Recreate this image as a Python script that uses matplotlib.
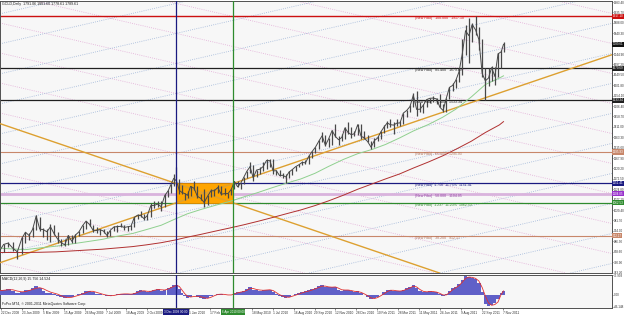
import numpy as np
import pandas as pd
import matplotlib
matplotlib.use('Agg')
import matplotlib.pyplot as plt
import matplotlib.dates as mdates
from matplotlib.patches import Rectangle

plt.rcParams['font.family'] = ['Liberation Sans', 'DejaVu Sans']
W, H = 625, 315

title_text = "GOLD,Daily  1791.06 1801.60 1778.61 1789.61"
macd_text = "MACD(12,26,9) 15.756 14.524"
footer_text = "FxPro MT4, \u00a9 2001-2011 MetaQuotes Software Corp."

# ---- time axis labels (one every 30 bars) ----
tick_dates = ['2008-12-22', '2009-01-23', '2009-03-05', '2009-04-15', '2009-05-26',
              '2009-07-07', '2009-08-18', '2009-10-02', '2009-11-13', '2010-01-05',
              '2010-02-17', '2010-04-01', '2010-05-18', '2010-07-01', '2010-08-16',
              '2010-09-29', '2010-11-12', '2010-12-28', '2011-02-10', '2011-03-28',
              '2011-05-11', '2011-06-24', '2011-08-09', '2011-09-22', '2011-11-07']
hidden_ticks = ['2009-11-13', '2010-04-01']   # covered by the vertical-line date boxes

# ---- weekly price data ----
week_dates = list(pd.date_range('2008-12-19', '2011-11-04', freq='W-FRI').strftime('%Y-%m-%d')) + ['2011-11-09']
highs = [880, 875, 885, 881, 845, 905, 930, 925, 950, 1007,
         1000, 946, 945, 965, 960, 930, 895, 895, 915, 915,
         920, 935, 962, 980, 990, 962, 950, 945, 945, 935,
         940, 958, 960, 972, 960, 955, 960, 1000, 1010, 1025,
         1010, 1010, 1062, 1070, 1070, 1070, 1102, 1120, 1150, 1195,
         1227, 1170, 1145, 1110, 1115, 1140, 1162, 1140, 1105, 1125,
         1098, 1125, 1125, 1145, 1140, 1130, 1110, 1128, 1165, 1162,
         1155, 1180, 1210, 1250, 1238, 1215, 1225, 1250, 1262, 1262,
         1262, 1215, 1215, 1200, 1195, 1210, 1220, 1232, 1242, 1255,
         1260, 1280, 1300, 1320, 1350, 1388, 1375, 1360, 1398, 1424,
         1370, 1380, 1410, 1432, 1410, 1390, 1425, 1423, 1390, 1375,
         1345, 1360, 1370, 1390, 1420, 1437, 1445, 1435, 1447, 1440,
         1475, 1488, 1510, 1564, 1575, 1523, 1515, 1540, 1545, 1552,
         1545, 1560, 1515, 1545, 1595, 1610, 1632, 1682, 1815, 1880,
         1912, 1885, 1921, 1870, 1815, 1680, 1680, 1690, 1685, 1750,
         1765, 1802]
lows = [815, 836, 860, 840, 803, 830, 880, 890, 905, 938,
        935, 905, 890, 885, 915, 880, 865, 865, 868, 880,
        880, 910, 925, 945, 955, 930, 925, 915, 925, 905,
        910, 935, 930, 950, 940, 935, 940, 950, 990, 1000,
        985, 985, 1000, 1040, 1045, 1027, 1042, 1090, 1110, 1140,
        1160, 1105, 1105, 1075, 1085, 1095, 1120, 1085, 1075, 1045,
        1055, 1090, 1095, 1110, 1100, 1100, 1085, 1100, 1125, 1135,
        1125, 1150, 1175, 1200, 1165, 1180, 1195, 1210, 1220, 1225,
        1195, 1190, 1185, 1175, 1155, 1175, 1190, 1210, 1225, 1235,
        1240, 1240, 1270, 1290, 1310, 1340, 1325, 1320, 1330, 1365,
        1330, 1345, 1355, 1380, 1360, 1370, 1375, 1355, 1355, 1340,
        1310, 1320, 1345, 1355, 1385, 1405, 1410, 1380, 1415, 1415,
        1425, 1455, 1480, 1500, 1462, 1480, 1475, 1500, 1520, 1525,
        1515, 1500, 1478, 1480, 1540, 1575, 1590, 1615, 1650, 1740,
        1705, 1800, 1830, 1765, 1640, 1535, 1600, 1620, 1605, 1640,
        1680, 1755]
closes = [838, 872, 878, 855, 838, 900, 928, 913, 941, 1002,
          942, 940, 930, 953, 922, 897, 881, 870, 913, 886,
          915, 930, 958, 979, 963, 937, 936, 940, 933, 913,
          938, 952, 954, 955, 950, 953, 956, 996, 1006, 1004,
          990, 1004, 1050, 1051, 1057, 1045, 1096, 1118, 1146, 1175,
          1163, 1120, 1110, 1105, 1097, 1138, 1130, 1093, 1083, 1064,
          1093, 1118, 1118, 1133, 1102, 1105, 1105, 1125, 1161, 1136,
          1152, 1180, 1208, 1228, 1177, 1213, 1217, 1229, 1257, 1256,
          1209, 1210, 1188, 1189, 1181, 1204, 1215, 1228, 1237, 1248,
          1246, 1276, 1298, 1318, 1345, 1370, 1326, 1357, 1394, 1367,
          1352, 1362, 1406, 1385, 1375, 1380, 1421, 1368, 1360, 1343,
          1318, 1348, 1360, 1388, 1410, 1429, 1421, 1419, 1428, 1429,
          1474, 1486, 1504, 1556, 1491, 1492, 1510, 1536, 1542, 1543,
          1539, 1501, 1486, 1542, 1592, 1601, 1624, 1663, 1744, 1852,
          1829, 1880, 1856, 1812, 1656, 1622, 1635, 1683, 1642, 1746,
          1755, 1789.61]

# ---- MACD (12,26,9), weekly samples ----
macd_main = [18, 20, 22, 15, 6, 10, 18, 20, 24, 32,
             26, 16, 8, 6, 4, -4, -10, -14, -10, -7,
             -3, 2, 8, 14, 16, 10, 4, 1, -1, -5,
             -4, 0, 2, 4, 3, 2, 2, 8, 14, 17,
             14, 11, 16, 20, 21, 16, 20, 26, 31, 36,
             38, 22, 6, -6, -12, -8, -3, -7, -11, -16,
             -13, -5, 0, 4, 2, -1, -3, 0, 8, 10,
             11, 15, 22, 29, 20, 17, 16, 17, 20, 20,
             10, 2, -5, -9, -13, -8, -3, 2, 7, 11,
             13, 17, 22, 27, 32, 37, 30, 28, 31, 30,
             20, 16, 19, 19, 14, 11, 13, 6, -2, -10,
             -18, -14, -8, 0, 10, 17, 19, 15, 15, 13,
             19, 24, 29, 38, 24, 14, 10, 12, 13, 12,
             9, 2, -5, 2, 16, 25, 31, 40, 58, 72,
             68, 66, 60, 46, 10, -35, -44, -40, -33, -15,
             8, 15.76]
macd_signal = [15, 17, 19, 19, 14, 11, 12, 16, 20, 25,
               27, 23, 16, 10, 6, 2, -4, -9, -11, -10,
               -6, -2, 3, 8, 13, 13, 9, 5, 1, -2,
               -4, -3, 0, 2, 3, 3, 2, 4, 9, 14,
               15, 13, 13, 17, 20, 19, 18, 22, 27, 32,
               36, 32, 18, 4, -6, -9, -7, -6, -8, -12,
               -14, -10, -4, 1, 2, 1, -1, -1, 3, 7,
               10, 12, 17, 24, 24, 20, 18, 17, 18, 19,
               16, 8, 0, -5, -9, -10, -6, -2, 3, 7,
               11, 14, 18, 23, 28, 33, 33, 30, 29, 30,
               25, 19, 18, 18, 16, 13, 12, 9, 3, -4,
               -12, -15, -11, -4, 4, 12, 17, 17, 15, 14,
               16, 21, 26, 33, 30, 20, 13, 11, 12, 12,
               10, 5, -1, -1, 8, 19, 27, 35, 48, 63,
               68, 67, 63, 53, 28, -5, -32, -41, -38, -28,
               2, 14.52]

# ---- moving averages (monthly readings) ----
ma_dates = ['2008-12-19', '2009-01-30', '2009-02-27', '2009-03-31', '2009-04-30', '2009-05-29',
            '2009-06-30', '2009-07-31', '2009-08-31', '2009-09-30', '2009-10-30', '2009-11-30',
            '2009-12-31', '2010-01-29', '2010-02-26', '2010-03-31', '2010-04-30', '2010-05-31',
            '2010-06-30', '2010-07-30', '2010-08-31', '2010-09-30', '2010-10-29', '2010-11-30',
            '2010-12-31', '2011-01-31', '2011-02-28', '2011-03-31', '2011-04-29', '2011-05-31',
            '2011-06-30', '2011-07-29', '2011-08-31', '2011-09-30', '2011-10-31', '2011-11-09']
ma_green = [855, 848, 856, 864, 874, 884, 895, 910, 922, 940, 960, 988,
            1012, 1032, 1050, 1070, 1090, 1110, 1132, 1152, 1172, 1198, 1230, 1262,
            1288, 1308, 1330, 1360, 1392, 1422, 1455, 1492, 1548, 1605, 1635, 1645]
ma_red = [835, 835, 836, 838, 842, 846, 850, 856, 862, 870, 880, 892,
          905, 918, 932, 948, 962, 978, 995, 1012, 1030, 1050, 1072, 1098,
          1125, 1150, 1172, 1195, 1222, 1250, 1278, 1308, 1345, 1385, 1420, 1435]

# ---- chart objects ----
fibo_low, fibo_high = 291.0, 1917.10
fibo_levels = [100.0, 85.4, 76.4, 61.8, 50.0, 38.2]
fibo_colors = ['#CC1010', '#202020', '#202020', '#C8876A', '#D9B3DD', '#C8876A']
fibo_text_colors = ['#CC1010', '#202020', '#202020', '#B0705A', '#9040A0', '#B0705A']
fibo_box_colors = ['#CC1010', '#202020', '#202020', '#C8876A', '#9932CC', '#C8876A']
fibo_widths = [1.0, 0.9, 0.9, 0.8, 2.0, 0.8]
fibo_text_date = '2011-05-03'
box_start, box_end = '2009-12-03', '2010-04-06'
box_top, box_bottom = 1151.41, 1062.53
box_top_text = "(New Fibo)  1.750  11.75%  1151.41"
box_bottom_text = "(New Fibo)  1.237  11.23%  1062.53"
vline_labels = ['3 Dec 2009 00:00', '6 Apr 2010 00:00']

price_ticks = [1983.40, 1935.70, 1888.00, 1840.30, 1744.90, 1697.20, 1649.50, 1601.80,
               1554.10, 1506.40, 1458.70, 1411.00, 1363.30, 1315.60, 1267.90, 1220.20,
               1172.50, 1124.80, 1077.10, 1029.40, 981.70, 934.00, 886.30, 838.60,
               790.90, 743.20]
macd_ticks = [75.903, 0.0, -46.148]

# grid (Gann-like lattice) parameters
grid_slope = 22.0
grid_step = 137.6

# ---------------- mapping dates -> bar position ----------------
tick_num = mdates.date2num(pd.to_datetime(tick_dates))
tick_pos = np.arange(len(tick_num), dtype=float)


def to_x(dates):
    n = np.atleast_1d(mdates.date2num(pd.to_datetime(dates))).astype(float)
    x = np.interp(n, tick_num, tick_pos)
    lo = n < tick_num[0]
    hi = n > tick_num[-1]
    x[lo] = (n[lo] - tick_num[0]) / (tick_num[1] - tick_num[0])
    x[hi] = tick_pos[-1] + (n[hi] - tick_num[-1]) / (tick_num[-1] - tick_num[-2])
    return x


PXU = 20.9  # pixels per label interval
xl = (-1 / PXU, 611 / PXU)

fig = plt.figure(figsize=(W / 100, H / 100), dpi=100)
fig.patch.set_facecolor('white')
bg = '#F7F7F7'
ax = fig.add_axes([0, 1 - 273 / H, 612 / W, 272 / H])
ax2 = fig.add_axes([0, 1 - 307.5 / H, 612 / W, 33 / H])
for a in (ax, ax2):
    a.set_facecolor(bg)
    a.set_xlim(*xl)
    for s in a.spines.values():
        s.set_color('#505050')
        s.set_linewidth(0.7)
ax.set_ylim(741, 1988)
ax2.set_ylim(-49.5, 78)

xw = to_x(week_dates)
x_box0, x_box1 = to_x([box_start])[0], to_x([box_end])[0]

# lattice
x_anchor = x_box0
for k in range(-25, 25):
    ax.axline((x_anchor, box_top + k * grid_step), slope=grid_slope,
              color='#9DB4D8', lw=0.6, ls=(0, (1, 1.6)), zorder=1)
    ax.axline((x_anchor, box_top + k * grid_step), slope=-grid_slope,
              color='#E2A9D6', lw=0.6, ls=(0, (1, 1.6)), zorder=1)

# fibo levels
x_ft = to_x([fibo_text_date])[0]
for lev, col, tcol, lw in zip(fibo_levels, fibo_colors, fibo_text_colors, fibo_widths):
    p = fibo_low + (fibo_high - fibo_low) * lev / 100
    ax.axhline(p, color=col, lw=lw, zorder=2)
    ax.text(x_ft, p, f"(New Fibo)   {lev:.3f}   {p:.2f}", fontsize=2.5, color=tcol,
            va='top', ha='left', zorder=6)
ax.axhline(box_top, color='#1A1A80', lw=0.9, zorder=2)
ax.axhline(box_bottom, color='#2E8B2E', lw=0.9, zorder=2)
ax.text(x_ft, box_top, box_top_text, fontsize=2.5, color='#1A1A80', va='top', zorder=6)
ax.text(x_ft, box_bottom, box_bottom_text, fontsize=2.5, color='#2E8B2E', va='top', zorder=6)

# box
ax.add_patch(Rectangle((x_box0, box_bottom), x_box1 - x_box0, box_top - box_bottom,
                       fc='#FFA500', ec='#E08A00', lw=0.6, zorder=2.5))
# diagonals of box, extended
ax.axline((x_box0, box_bottom), (x_box1, box_top), color='#DDA030', lw=1.0, zorder=3)
ax.axline((x_box0, box_top), (x_box1, box_bottom), color='#DDA030', lw=1.0, zorder=3)

# moving averages
xm = to_x(ma_dates)
ax.plot(xm, ma_green, color='#8FD08F', lw=0.7, zorder=3)
ax.plot(xm, ma_red, color='#B03030', lw=0.7, zorder=3)

# price bars
ax.vlines(xw, lows, highs, color='#484848', lw=0.9, zorder=4)
ax.plot(xw, closes, color='#484848', lw=0.7, zorder=4)

# vertical lines
for a in (ax, ax2):
    a.axvline(x_box0, color='#1A1A80', lw=0.9, zorder=5)
    a.axvline(x_box1, color='#2E8B2E', lw=0.9, zorder=5)

# price axis
ax.yaxis.tick_right()
ax.set_yticks(price_ticks)
ax.set_yticklabels([f"{v:.2f}" for v in price_ticks])
ax.tick_params(axis='y', length=1.0, width=0.4, pad=0.5, labelsize=2.2, colors='#303030')
ax.set_xticks([])

ytr = ax.get_yaxis_transform()
boxes = [(fibo_low + (fibo_high - fibo_low) * lev / 100, c) for lev, c in
         zip(fibo_levels, fibo_box_colors)]
boxes += [(box_top, '#1A1A80'), (box_bottom, '#2E8B2E'), (closes[-1], '#101010')]
for p, c in boxes:
    ax.text(1.0008, p, f"{p:.2f}", transform=ytr, fontsize=2.2, color='white', va='center',
            ha='left', clip_on=False, zorder=10,
            bbox=dict(boxstyle='square,pad=0.2', fc=c, ec='none'))

# MACD
dx = np.gradient(xw)
ax2.bar(xw, macd_main, width=dx * 1.02, color='#6060C8', ec='none', zorder=3)
ax2.plot(xw, macd_signal, color='#E03030', lw=0.6, zorder=4)
ax2.yaxis.tick_right()
ax2.set_yticks(macd_ticks)
ax2.set_yticklabels([f"{v:.3f}" if v != 0 else "0.00" for v in macd_ticks])
ax2.tick_params(axis='y', length=1.0, width=0.4, pad=0.5, labelsize=2.2, colors='#303030')

# date axis
ax2.set_xticks(tick_pos)
ax2.set_xticklabels(["" if d in hidden_ticks else f"{pd.Timestamp(d).day} {pd.Timestamp(d).strftime('%b %Y')}"
                     for d in tick_dates])
ax2.tick_params(axis='x', length=1.5, width=0.4, pad=0.8, labelsize=2.3, colors='#303030')
for lab in ax2.get_xticklabels():
    lab.set_ha('left')
xtr = ax2.get_xaxis_transform()
for xv, lab, c in zip([x_box0, x_box1], vline_labels, ['#1A1A80', '#2E8B2E']):
    ax2.text(xv, -0.07, lab, transform=xtr, fontsize=2.2, color='white', ha='center',
             va='top', clip_on=False, zorder=10,
             bbox=dict(boxstyle='square,pad=0.3', fc=c, ec='none'))

# texts
ax.text(0.003, 0.995, title_text, transform=ax.transAxes, fontsize=2.6, color='#202020',
        va='top', ha='left', zorder=10)
ax2.text(0.003, 0.93, macd_text, transform=ax2.transAxes, fontsize=2.5, color='#202020',
         va='top', ha='left', zorder=10)
ax2.text(0.003, 0.04, footer_text, transform=ax2.transAxes, fontsize=2.5, color='#202020',
         va='bottom', ha='left', zorder=10)

fig.savefig('out.png', dpi=100, facecolor='white')
